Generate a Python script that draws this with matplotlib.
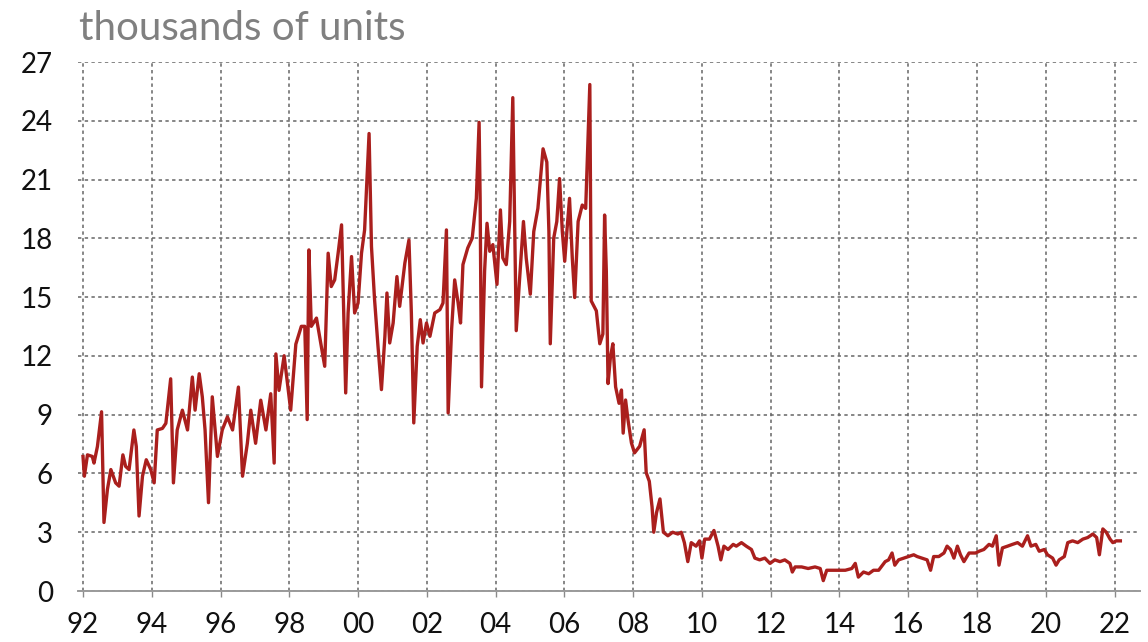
import matplotlib
matplotlib.use("Agg")
import matplotlib.pyplot as plt

# ---- data (decimal year, thousands of units) ----
years = [
    1992.00, 1992.04, 1992.13, 1992.27, 1992.32, 1992.42, 1992.54, 1992.61, 1992.71, 1992.81,
    1992.95, 1993.05, 1993.16, 1993.24, 1993.34, 1993.48, 1993.55, 1993.63, 1993.73, 1993.84,
    1993.97, 1994.07, 1994.16, 1994.31, 1994.41, 1994.55, 1994.63, 1994.74, 1994.89, 1995.04,
    1995.18, 1995.26, 1995.38, 1995.47, 1995.55, 1995.65, 1995.76, 1995.91, 1996.05, 1996.20,
    1996.35, 1996.52, 1996.64, 1996.78, 1996.88, 1997.02, 1997.17, 1997.32, 1997.46, 1997.56,
    1997.61, 1997.70, 1997.85, 1998.04, 1998.19,
    1998.35, 1998.45, 1998.52, 1998.57, 1998.64, 1998.79, 1998.93, 1999.03, 1999.13, 1999.22,
    1999.32, 1999.42, 1999.52, 1999.56, 1999.64, 1999.71, 1999.81, 1999.90, 2000.00, 2000.10,
    2000.19, 2000.32, 2000.39, 2000.48, 2000.58, 2000.68, 2000.78, 2000.84, 2000.92, 2001.02,
    2001.13, 2001.21, 2001.36, 2001.48, 2001.55, 2001.62, 2001.72, 2001.81, 2001.89, 2001.99,
    2002.09, 2002.23, 2002.38, 2002.47, 2002.57, 2002.62, 2002.72, 2002.81, 2002.91, 2002.98,
    2003.05, 2003.19, 2003.32, 2003.44, 2003.52, 2003.55, 2003.59, 2003.68, 2003.75, 2003.83,
    2003.92, 2004.04, 2004.14, 2004.21, 2004.31, 2004.41, 2004.50, 2004.56, 2004.60, 2004.70,
    2004.81, 2004.89, 2005.01, 2005.11, 2005.23, 2005.38, 2005.49, 2005.55, 2005.59, 2005.69,
    2005.78, 2005.86, 2005.94, 2006.01, 2006.08, 2006.15, 2006.23, 2006.30, 2006.40, 2006.52,
    2006.62, 2006.74, 2006.78, 2006.93, 2007.03, 2007.12, 2007.17, 2007.22, 2007.27, 2007.34,
    2007.41, 2007.49, 2007.59, 2007.66, 2007.71, 2007.78, 2007.85, 2007.95, 2008.04, 2008.19,
    2008.32, 2008.38, 2008.47, 2008.55, 2008.60, 2008.68, 2008.78, 2008.88,
    2009.01, 2009.15, 2009.30, 2009.40, 2009.49, 2009.59, 2009.69, 2009.83, 2009.93, 2010.00,
    2010.08, 2010.22, 2010.35, 2010.47, 2010.55, 2010.64, 2010.76, 2010.91, 2011.00, 2011.15,
    2011.29, 2011.44, 2011.54, 2011.68, 2011.83, 2011.98, 2012.12, 2012.27, 2012.41, 2012.56,
    2012.63, 2012.71, 2012.90, 2013.09, 2013.29, 2013.44, 2013.53, 2013.63, 2013.78, 2013.97,
    2014.17, 2014.36, 2014.46, 2014.55, 2014.70, 2014.85, 2014.99, 2015.14, 2015.33, 2015.43,
    2015.53, 2015.61, 2015.72, 2015.87, 2016.01, 2016.16, 2016.26, 2016.40, 2016.55, 2016.65,
    2016.74, 2016.89, 2017.04, 2017.13, 2017.23, 2017.33, 2017.43, 2017.52, 2017.62, 2017.77,
    2017.96, 2018.06, 2018.20, 2018.35, 2018.45, 2018.56, 2018.64, 2018.74, 2018.89, 2019.03,
    2019.18, 2019.32, 2019.47, 2019.57, 2019.71, 2019.81, 2019.96, 2020.05, 2020.20, 2020.30,
    2020.39, 2020.54, 2020.64, 2020.78, 2020.93, 2021.08, 2021.22, 2021.37, 2021.48, 2021.56,
    2021.66, 2021.76, 2021.87, 2021.95, 2022.05, 2022.17,
]
values = [
    6.87, 5.86, 6.95, 6.87, 6.53, 7.38, 9.15, 3.50, 5.18, 6.20,
    5.52, 5.35, 6.95, 6.36, 6.20, 8.22, 7.38, 3.83, 5.86, 6.70,
    6.20, 5.52, 8.22, 8.30, 8.56, 10.83, 5.52, 8.22, 9.23, 8.22,
    10.92, 9.23, 11.09, 9.91, 8.22, 4.51, 9.91, 6.87, 8.22, 8.89,
    8.22, 10.41, 5.86, 7.54, 9.23, 7.54, 9.74, 8.22, 10.07, 6.53,
    12.10, 10.24, 12.01, 9.23, 12.60,
    13.51, 13.51, 8.75, 17.41, 13.51, 13.93, 12.49, 11.47, 17.24, 15.54,
    15.88, 17.24, 18.69, 15.88, 10.11, 14.19, 17.07, 14.19, 14.70, 17.24,
    18.43, 23.35, 17.58, 14.87, 12.49, 10.28, 13.00, 15.21, 12.66, 13.68,
    16.05, 14.53, 16.73, 17.92, 14.19, 8.58, 12.49, 13.85, 12.66, 13.68,
    13.00, 14.19, 14.36, 14.70, 18.43, 9.09, 13.34, 15.88, 14.70, 13.68,
    16.66, 17.51, 18.01, 20.04, 23.92, 20.04, 10.42, 16.33, 18.77, 17.34,
    17.68, 15.65, 19.45, 17.00, 16.66, 18.86, 25.18, 18.01, 13.29, 15.99,
    18.86, 17.00, 15.15, 18.35, 19.53, 22.57, 21.89, 18.35, 12.62, 18.01,
    18.86, 21.05, 18.35, 16.83, 18.52, 20.04, 17.00, 14.98, 18.86, 19.70,
    19.53, 25.85, 14.81, 14.30, 12.62, 13.12, 19.19, 16.33, 10.59, 11.94,
    12.62, 10.42, 9.58, 10.26, 8.06, 9.75, 8.74, 7.56, 7.05, 7.39,
    8.23, 6.04, 5.60, 4.30, 3.00, 4.00, 4.70, 3.00,
    2.82, 3.00, 2.91, 3.00, 2.47, 1.50, 2.47, 2.29, 2.56, 1.68,
    2.65, 2.65, 3.09, 2.29, 1.59, 2.29, 2.12, 2.38, 2.29, 2.47,
    2.29, 2.12, 1.68, 1.59, 1.68, 1.41, 1.59, 1.50, 1.59, 1.41,
    0.97, 1.23, 1.23, 1.15, 1.23, 1.15, 0.53, 1.06, 1.06, 1.06,
    1.06, 1.15, 1.41, 0.71, 0.97, 0.88, 1.06, 1.06, 1.50, 1.59,
    1.94, 1.32, 1.59, 1.68, 1.76, 1.85, 1.76, 1.68, 1.59, 1.06,
    1.76, 1.76, 1.94, 2.29, 2.12, 1.68, 2.29, 1.85, 1.50, 1.94,
    1.94, 2.03, 2.12, 2.38, 2.29, 2.82, 1.32, 2.20, 2.29, 2.38,
    2.47, 2.29, 2.82, 2.29, 2.38, 2.03, 2.12, 1.85, 1.68, 1.32,
    1.59, 1.76, 2.47, 2.56, 2.47, 2.65, 2.73, 2.91, 2.73, 1.85,
    3.17, 3.00, 2.65, 2.47, 2.56, 2.56,
]

tick_years = [1992, 1994, 1996, 1998, 2000, 2002, 2004, 2006, 2008, 2010,
              2012, 2014, 2016, 2018, 2020, 2022]
tick_labels = ["92", "94", "96", "98", "00", "02", "04", "06", "08", "10",
               "12", "14", "16", "18", "20", "22"]
y_ticks = [0, 3, 6, 9, 12, 15, 18, 21, 24, 27]
title_text = "thousands of units"

# ---- figure ----
plt.rcParams['font.family'] = ['Lato', 'DejaVu Sans']

fig = plt.figure(figsize=(11.48, 6.42), dpi=100)
ax = fig.add_axes([0.0678, 0.0794, 0.9255, 0.824])

ax.plot(years, values, color='#aa1f1d', lw=2.4, solid_joinstyle='round', zorder=3)

ax.set_xlim(1991.85, 2022.75)
ax.set_ylim(0, 27)
ax.set_xticks(tick_years)
ax.set_xticklabels(tick_labels)
ax.set_yticks(y_ticks)

grid_style = dict(color='#666666', lw=1.1, linestyle=(0, (2.2, 2.2)))
ax.grid(True, **grid_style)
ax.set_axisbelow(True)

for s in ['top', 'right', 'left']:
    ax.spines[s].set_visible(False)
ax.spines['bottom'].set_color('#9a9a9a')
ax.spines['bottom'].set_linewidth(1.4)

ax.tick_params(axis='x', length=4, width=1, color='#8a8a8a', labelsize=20,
               pad=11, labelcolor='#111111')
ax.tick_params(axis='y', length=0, labelsize=20, pad=18, labelcolor='#111111')

fig.text(0.069, 0.937, title_text, color='#808080', fontsize=29,
         ha='left', va='baseline')

fig.savefig('out.png', dpi=100)
